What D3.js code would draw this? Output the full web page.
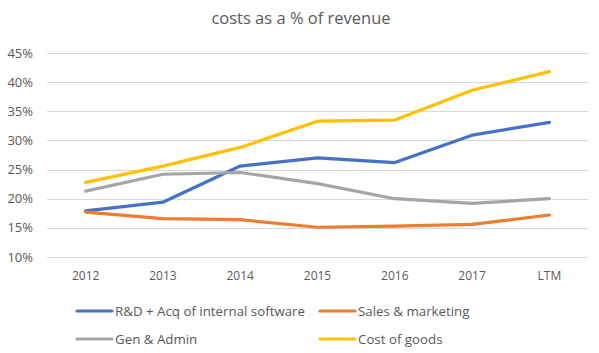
<!DOCTYPE html>
<html>
<head>
<meta charset="utf-8">
<script src="https://cdn.jsdelivr.net/npm/d3@7"></script>
<style>
  body { margin: 0; background: #fff; }
  svg { font-family: "Open Sans", "Liberation Sans", sans-serif; }
  .chart-title { font-size: 16.5px; fill: #595959; }
  .tick-text { font-size: 12px; fill: #595959; }
  .y-tick-text { font-size: 13px; fill: #595959; }
  .legend-text { font-size: 13.3px; fill: #595959; }
</style>
</head>
<body>
<div id="chart"></div>
<script>
const years = ["2012", "2013", "2014", "2015", "2016", "2017", "LTM"];
const rdValues = [17.9, 19.4, 25.6, 27.0, 26.2, 30.9, 33.1];
const salesValues = [17.7, 16.6, 16.4, 15.1, 15.3, 15.6, 17.2];
const adminValues = [21.3, 24.2, 24.5, 22.6, 20.0, 19.2, 20.0];
const goodsValues = [22.8, 25.6, 28.8, 33.3, 33.5, 38.6, 41.8];
const yTicks = [10, 15, 20, 25, 30, 35, 40, 45];

const series = [
  { name: "R&D + Acq of internal software", values: rdValues, color: "#4472C4" },
  { name: "Sales & marketing", values: salesValues, color: "#ED7D31" },
  { name: "Gen & Admin", values: adminValues, color: "#A5A5A5" },
  { name: "Cost of goods", values: goodsValues, color: "#FFC000" }
];

const width = 599;
const height = 353;
const margin = { top: 53, right: 11, bottom: 96, left: 47 };

const svg = d3.select("#chart")
  .append("svg")
  .attr("width", width)
  .attr("height", height);

svg.append("text")
  .attr("class", "chart-title")
  .attr("x", 301)
  .attr("y", 24)
  .attr("text-anchor", "middle")
  .text("costs as a % of revenue");

const xScale = d3.scaleBand()
  .domain(years)
  .range([margin.left, width - margin.right]);

const yScale = d3.scaleLinear()
  .domain([10, 45])
  .range([height - margin.bottom, margin.top]);

// gridlines
svg.append("g")
  .selectAll("line")
  .data(yTicks)
  .join("line")
  .attr("x1", margin.left)
  .attr("x2", width - margin.right)
  .attr("y1", d => Math.round(yScale(d)) + 0.5)
  .attr("y2", d => Math.round(yScale(d)) + 0.5)
  .attr("stroke", "#d9d9d9")
  .attr("stroke-width", 1);

svg.append("g")
  .selectAll("text")
  .data(yTicks)
  .join("text")
  .attr("class", "y-tick-text")
  .attr("x", 33)
  .attr("y", d => yScale(d) + 4.5)
  .attr("text-anchor", "end")
  .text(d => d + "%");

svg.append("g")
  .selectAll("text")
  .data(years)
  .join("text")
  .attr("class", "tick-text")
  .attr("x", d => xScale(d) + xScale.bandwidth() / 2)
  .attr("y", 280)
  .attr("text-anchor", "middle")
  .text(d => d);

const line = d3.line()
  .x((d, i) => xScale(years[i]) + xScale.bandwidth() / 2)
  .y(d => yScale(d));

svg.append("g")
  .selectAll("path")
  .data(series)
  .join("path")
  .attr("fill", "none")
  .attr("stroke", d => d.color)
  .attr("stroke-width", 3.2)
  .attr("stroke-linecap", "round")
  .attr("stroke-linejoin", "round")
  .attr("d", d => line(d.values));

// legend
const legendPos = [[77, 311], [320, 311], [77, 339], [320, 339]];
const legend = svg.append("g")
  .selectAll("g")
  .data(series)
  .join("g")
  .attr("transform", (d, i) => `translate(${legendPos[i][0]},${legendPos[i][1]})`);

legend.append("line")
  .attr("x1", 0)
  .attr("x2", 35)
  .attr("stroke", d => d.color)
  .attr("stroke-width", 3.2)
  .attr("stroke-linecap", "round");

legend.append("text")
  .attr("class", "legend-text")
  .attr("x", 38)
  .attr("y", 4.5)
  .text(d => d.name);
</script>
</body>
</html>
